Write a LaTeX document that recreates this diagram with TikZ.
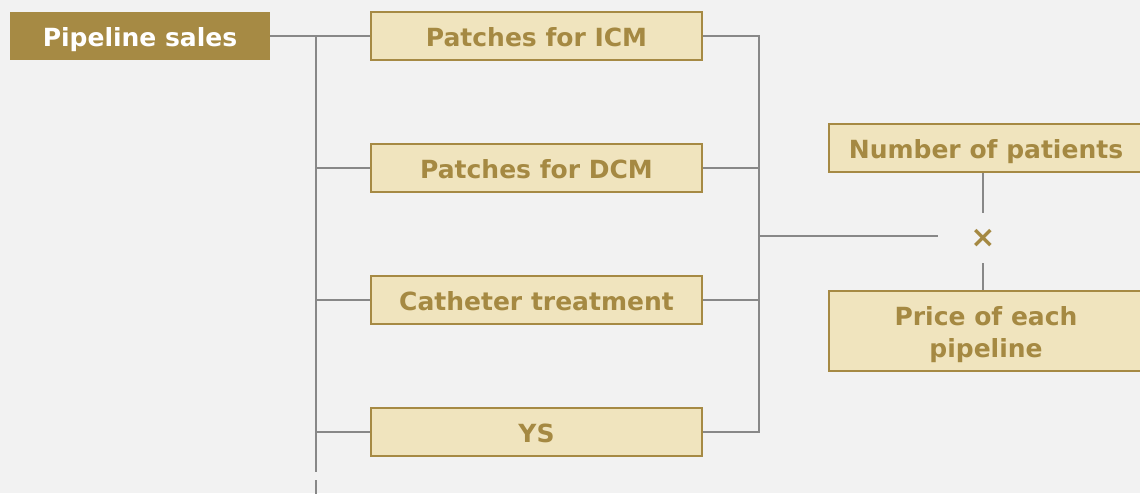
\documentclass[tikz,border=0pt]{standalone}
\usepackage{fontspec}
\setmainfont{DejaVu Sans}
\usetikzlibrary{positioning}

\definecolor{gold}{HTML}{A68A44}
\definecolor{paleGold}{HTML}{F0E4BE}
\definecolor{goldText}{HTML}{A58942}
\definecolor{lineGray}{HTML}{888888}
\definecolor{bgGray}{HTML}{F2F2F2}

\begin{document}
\begin{tikzpicture}[x=1pt,y=-1pt,
  every node/.style={font=\bfseries\fontsize{25}{32}\selectfont,text height=20pt,text depth=0pt},
  rootbox/.style={fill=gold,text=white,minimum width=260,minimum height=48,inner sep=0},
  itembox/.style={draw=gold,line width=1.5,fill=paleGold,text=goldText,inner sep=0},
  wire/.style={draw=lineGray,line width=1.8}]

  \fill[bgGray] (0,0) rectangle (1140,493);
  \useasboundingbox (0,0) rectangle (1140,493);

  \node[rootbox] (sales) at (140,36) {Pipeline sales};

  \node[itembox,minimum width=331,minimum height=48] (icm) at (536.5,36) {Patches for ICM};
  \node[itembox,minimum width=331,minimum height=48] (dcm) at (536.5,168) {Patches for DCM};
  \node[itembox,minimum width=331,minimum height=48] (cath) at (536.5,300) {Catheter treatment};
  \node[itembox,minimum width=331,minimum height=48] (ys) at (536.5,432) {YS};

  \node[itembox,minimum width=314,minimum height=48] (patients) at (986,148) {Number of patients};
  \node[itembox,minimum width=314,minimum height=80,align=center,text height=,text depth=] (price) at (986,331)
    {\rule{0pt}{26pt}Price of each\\pipeline};
  \node[text=goldText,minimum width=90,minimum height=50,inner sep=0,text height=,text depth=,
    font=\bfseries\fontsize{30}{30}\selectfont] (times) at (983,238) {\raisebox{-2pt}{×}};

  % left trunk, broken near the bottom
  \coordinate (trunkTop) at (316,36);
  \coordinate (trunkEnd) at (316,472);
  \coordinate (trunkRest) at (316,480);
  \coordinate (trunkBot) at (316,496);
  \path[wire] (sales.east) -- (icm.west);
  \path[wire] (trunkTop) -- (trunkEnd);
  \path[wire] (trunkRest) -- (trunkBot);
  \path[wire] (316,168) -- (dcm.west);
  \path[wire] (316,300) -- (cath.west);
  \path[wire] (316,432) -- (ys.west);

  % right bracket
  \coordinate (bracketTop) at (759,36);
  \coordinate (bracketBot) at (759,432);
  \path[wire] (icm.east) -- (bracketTop) -- (bracketBot) -- (ys.east);
  \path[wire] (dcm.east) -- (759,168);
  \path[wire] (cath.east) -- (759,300);
  \path[wire] (759,236) -- (times.west |- 0,236);

  \path[wire] (patients.south -| times.north) -- (times.north);
  \path[wire] (times.south) -- (price.north -| times.south);
\end{tikzpicture}
\end{document}
